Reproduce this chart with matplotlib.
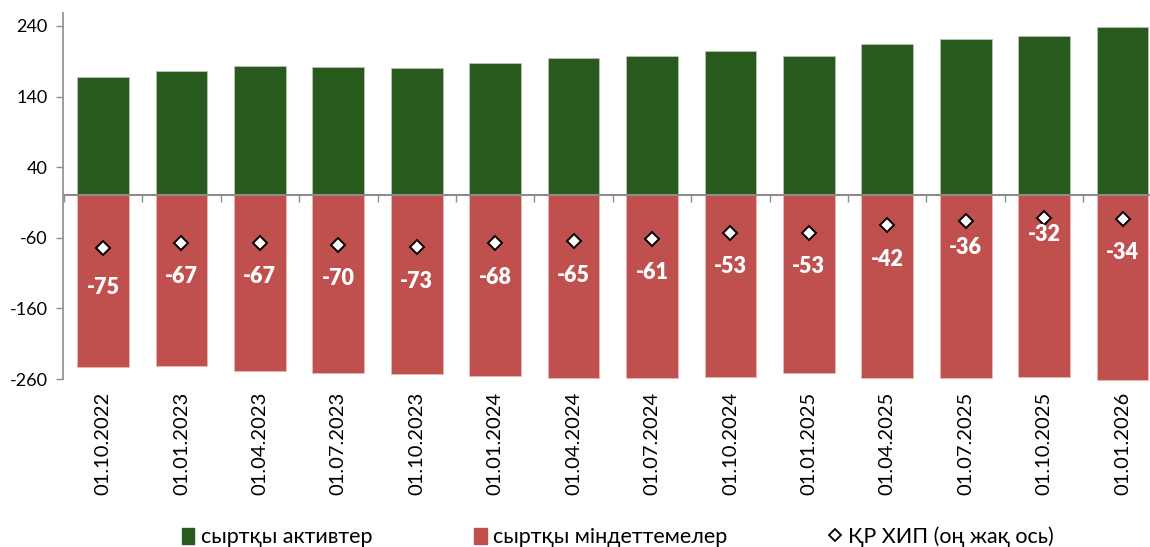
import numpy as np
import matplotlib
matplotlib.use("Agg")
import matplotlib.pyplot as plt
from matplotlib.patches import Patch
from matplotlib.lines import Line2D

plt.rcParams['font.family'] = ['Lato', 'Noto Sans', 'DejaVu Sans']
plt.rcParams['axes.unicode_minus'] = False

# данные (млрд долл.)
dates = ['01.10.2022', '01.01.2023', '01.04.2023', '01.07.2023', '01.10.2023',
         '01.01.2024', '01.04.2024', '01.07.2024', '01.10.2024', '01.01.2025',
         '01.04.2025', '01.07.2025', '01.10.2025', '01.01.2026']
assets = [168, 176, 183, 182, 180, 188, 194, 198, 204, 198, 215, 222, 226, 238]
liabilities = [-243, -242, -249, -251, -253, -256, -259, -259, -257, -251,
               -258, -259, -257, -262]
net_iip = [-75, -67, -67, -70, -73, -68, -65, -61, -53, -53, -42, -36, -32, -34]

# сдвиг подписи вниз от ромба, пт
label_dy = [28, 24.5, 24.5, 24.5, 24.5, 24.5, 24.5, 24.5, 24.5, 24.5, 24.5, 19.5, 11.5, 24]

green = '#295a1d'
red = '#c0504d'
axis_grey = '#8c8c8c'

fig = plt.figure(figsize=(11.5, 5.47), dpi=100)
ax = fig.add_axes([0.0548, 0.307, 0.9452, 0.670])

x = np.arange(len(dates))
ax.bar(x, assets, width=0.66, color=green, edgecolor='#b8c4b4', linewidth=0.6,
       zorder=2, clip_on=False)
ax.bar(x, liabilities, width=0.66, color=red, edgecolor='#e8b8b6', linewidth=0.6,
       zorder=2, clip_on=False)
ax.axhline(0, color=axis_grey, linewidth=1.5, zorder=3)
ax.plot(x, net_iip, linestyle='none', marker='D', markersize=7.5,
        markerfacecolor='white', markeredgecolor='black', markeredgewidth=1.4,
        zorder=4)

for xi, v, dy in zip(x, net_iip, label_dy):
    ax.annotate(str(v), (xi, v), xytext=(0, -dy), textcoords='offset points',
                ha='center', va='center', color='white', fontsize=15.5,
                fontweight='heavy', zorder=5)

ymin, ymax = -260, 259
ax.set_ylim(ymin, ymax)
ax.set_xlim(-0.51, 13.35)
ax.set_yticks([240, 140, 40, -60, -160, -260])
ax.tick_params(axis='y', direction='out', length=5, width=1, color=axis_grey,
               labelsize=13, pad=6)

ax.set_xticks(x)
ax.set_xticklabels(dates, rotation=90, fontsize=14.5)
ax.tick_params(axis='x', length=0, pad=9)

for s in ['top', 'right', 'bottom']:
    ax.spines[s].set_visible(False)
ax.spines['left'].set_color(axis_grey)
ax.spines['left'].set_linewidth(1.2)

# засечки оси категорий на нуле
sec = ax.secondary_xaxis((0 - ymin) / (ymax - ymin))
sec.set_xticks(np.arange(-0.5, len(dates), 1.0))
sec.set_xticklabels([])
sec.xaxis.set_ticks_position('bottom')
sec.tick_params(axis='x', direction='out', length=5, width=1, color=axis_grey)
for s in sec.spines.values():
    s.set_visible(False)

handles = [Patch(facecolor=green, edgecolor=green),
           Patch(facecolor=red, edgecolor=red),
           Line2D([], [], linestyle='none', marker='D', markersize=6.5,
                  markerfacecolor='white', markeredgecolor='black',
                  markeredgewidth=1.3)]
labels = ['сыртқы активтер', 'сыртқы міндеттемелер', 'ҚР ХИП (оң жақ ось)']
fig.legend(handles, labels, loc='lower center', bbox_to_anchor=(0.537, -0.036),
           ncol=3, frameon=False, fontsize=15.5, handlelength=0.6,
           handleheight=0.8, handletextpad=0.3, columnspacing=4.7)

fig.savefig('out.png', dpi=100)
